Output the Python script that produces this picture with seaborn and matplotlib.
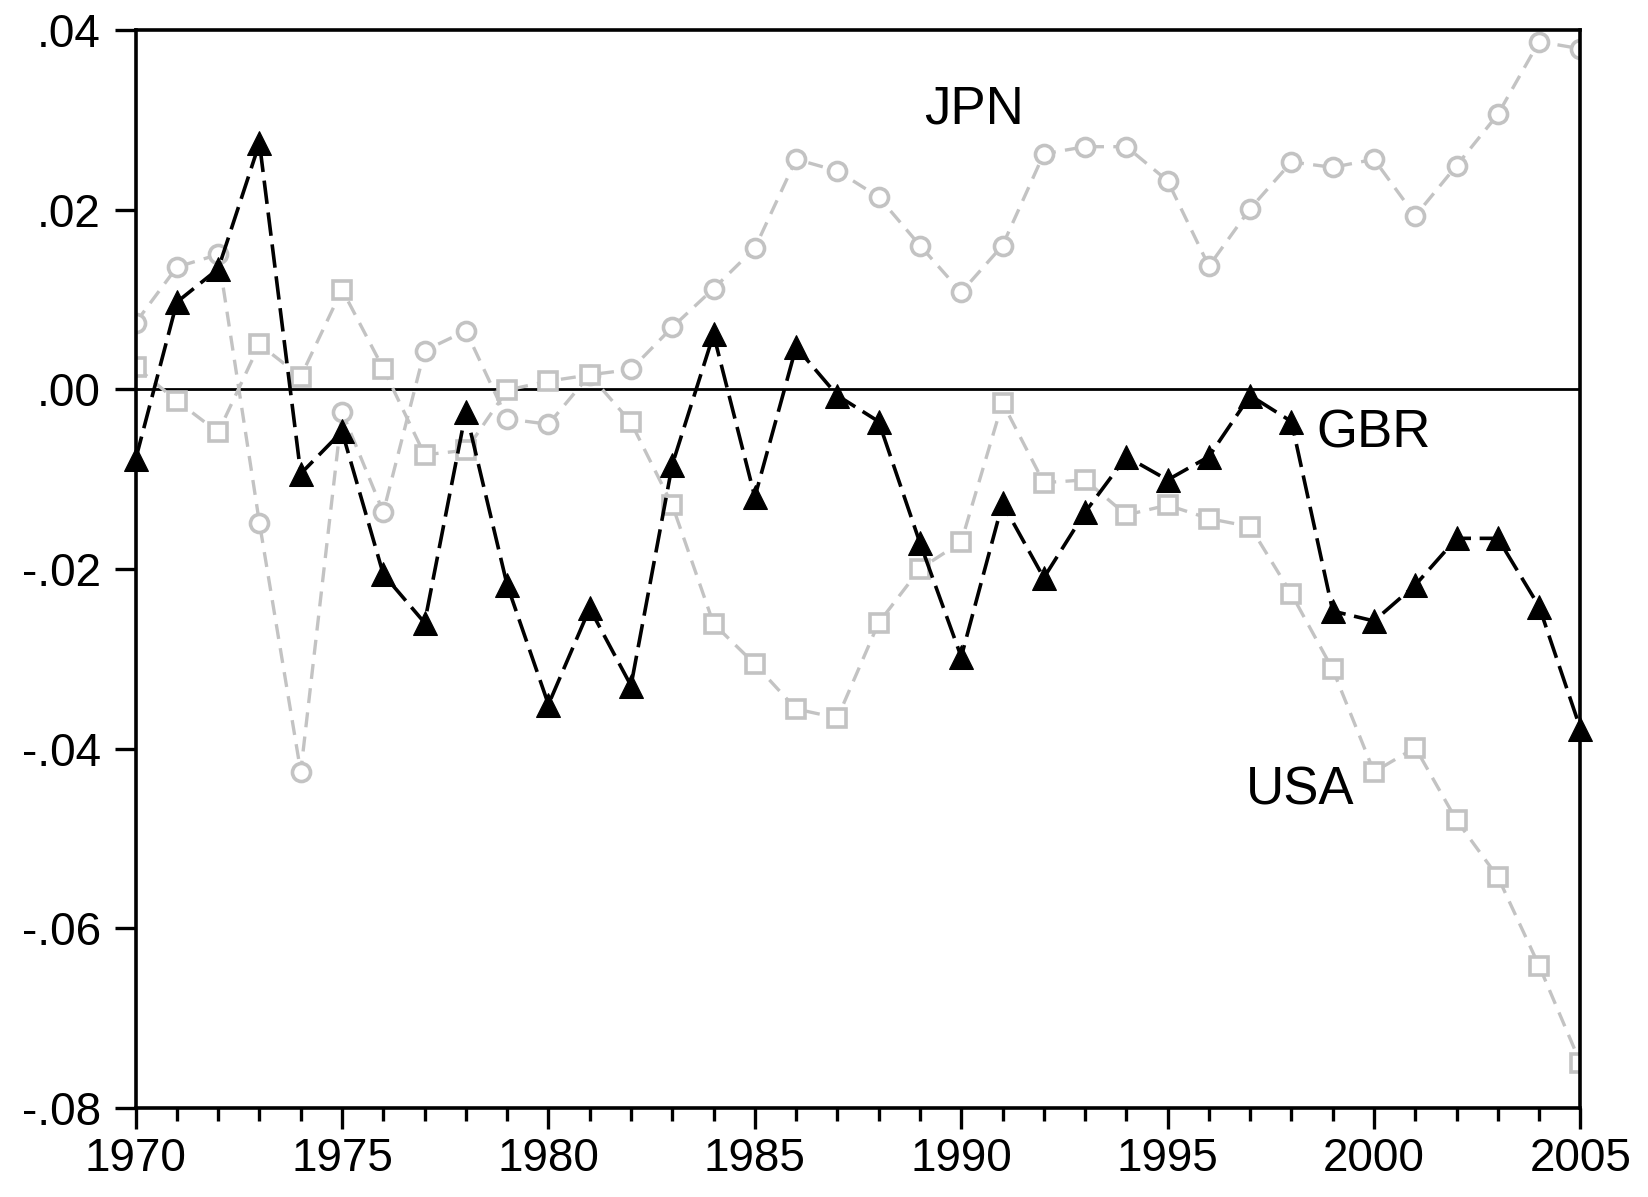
import matplotlib
matplotlib.use("Agg")
import matplotlib.pyplot as plt
from matplotlib.ticker import MultipleLocator, FuncFormatter
import seaborn as sns
import pandas as pd

years = list(range(1970, 2006))

gbr = [-0.0078, 0.0097, 0.0134, 0.0274, -0.0094, -0.0047, -0.0206, -0.0260, -0.0025, -0.0218,
       -0.0351, -0.0244, -0.0330, -0.0084, 0.0061, -0.0120, 0.0047, -0.0007, -0.0036, -0.0171,
       -0.0298, -0.0127, -0.0210, -0.0137, -0.0075, -0.0101, -0.0075, -0.0007, -0.0036, -0.0247,
       -0.0258, -0.0218, -0.0166, -0.0166, -0.0242, -0.0378]

jpn = [0.0074, 0.0136, 0.0150, -0.0149, -0.0426, -0.0025, -0.0137, 0.0043, 0.0065, -0.0033,
       -0.0039, 0.0016, 0.0022, 0.0069, 0.0112, 0.0157, 0.0256, 0.0243, 0.0214, 0.0160,
       0.0108, 0.0160, 0.0262, 0.0270, 0.0270, 0.0232, 0.0137, 0.0201, 0.0253, 0.0247,
       0.0256, 0.0193, 0.0249, 0.0306, 0.0387, 0.0379]

usa = [0.0025, -0.0013, -0.0048, 0.0050, 0.0014, 0.0111, 0.0023, -0.0073, -0.0068, -0.0001,
       0.0009, 0.0016, -0.0037, -0.0129, -0.0261, -0.0306, -0.0356, -0.0366, -0.0260, -0.0200,
       -0.0170, -0.0015, -0.0104, -0.0101, -0.0140, -0.0129, -0.0144, -0.0153, -0.0228, -0.0312,
       -0.0426, -0.0399, -0.0480, -0.0543, -0.0642, -0.0750]

df = pd.DataFrame({"year": years, "GBR": gbr, "JPN": jpn, "USA": usa})

sns.set_style("ticks")
plt.rcParams["font.family"] = ["Liberation Sans", "DejaVu Sans"]
plt.rcParams["text.color"] = "black"

fig = plt.figure(figsize=(16.48, 11.97), dpi=100)
ax = fig.add_axes([0.0823, 0.0745, 0.8767, 0.9005])

grey = "#c3c3c3"

# zero line
ax.axhline(0, color="black", lw=2.0, zorder=1)

# grey series first
sns.lineplot(data=df, x="year", y="JPN", ax=ax, color=grey, lw=2.4,
             marker="o", markersize=13, mfc="white", mec=grey, mew=2.6,
             errorbar=None, zorder=2)
ax.lines[-1].set_dashes((4.5, 2.8))

sns.lineplot(data=df, x="year", y="USA", ax=ax, color=grey, lw=2.4,
             marker="s", markersize=13, mfc="white", mec=grey, mew=2.6,
             errorbar=None, zorder=2)
ax.lines[-1].set_dashes((4.5, 2.8))

sns.lineplot(data=df, x="year", y="GBR", ax=ax, color="black", lw=2.6,
             marker="^", markersize=17, mfc="black", mec="black",
             errorbar=None, zorder=3, clip_on=False)
ax.lines[-1].set_dashes((6.5, 2.4))

# series labels
ax.text(1990.3, 0.0311, "JPN", fontsize=38, ha="center", va="center", color="black")
ax.text(2000.0, -0.0049, "GBR", fontsize=38, ha="center", va="center", color="black")
ax.text(1998.2, -0.0447, "USA", fontsize=38, ha="center", va="center", color="black")

ax.set_xlim(1970, 2005)
ax.set_ylim(-0.08, 0.04)
ax.xaxis.set_major_locator(MultipleLocator(5))
ax.xaxis.set_minor_locator(MultipleLocator(1))
ax.yaxis.set_major_locator(MultipleLocator(0.02))

def yfmt(v, pos):
    s = f"{v:.2f}"
    return s.replace("0.", ".", 1)

ax.yaxis.set_major_formatter(FuncFormatter(yfmt))

ax.tick_params(axis="both", which="major", direction="out", length=15, width=2.4,
               labelsize=33, colors="black", labelcolor="black")
ax.tick_params(axis="x", which="minor", direction="out", length=9, width=2.4, colors="black")
ax.tick_params(axis="x", which="major", pad=6)
ax.tick_params(axis="y", which="major", pad=10)

for sp in ax.spines.values():
    sp.set_linewidth(2.6)
    sp.set_color("black")
    sp.set_visible(True)

ax.set_xlabel("")
ax.set_ylabel("")

fig.savefig("out.png", dpi=100)
